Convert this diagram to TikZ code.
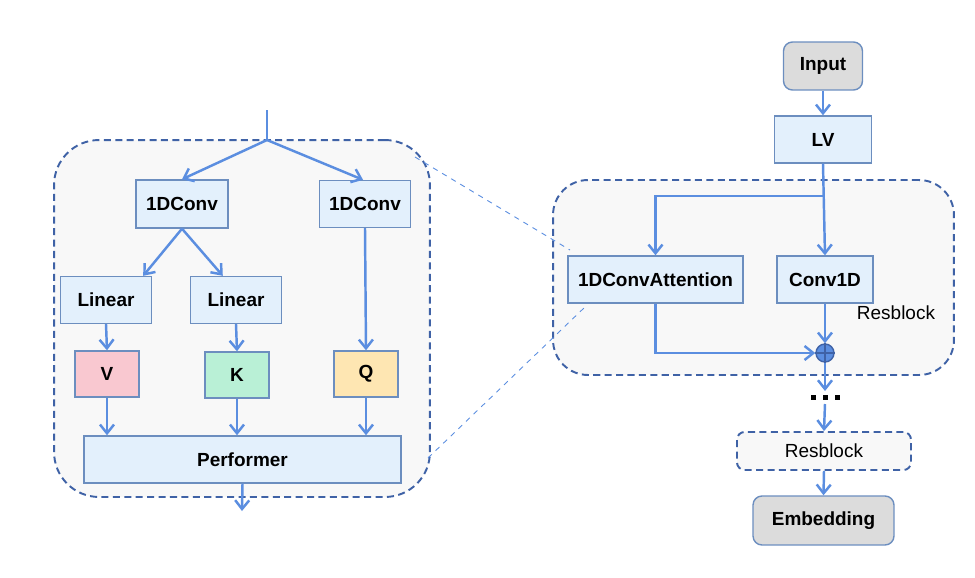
\documentclass[tikz,border=0pt]{standalone}
\usepackage{fontspec}
\setmainfont{Liberation Sans}
\usetikzlibrary{arrows.meta}
\definecolor{boxfill}{HTML}{E3F0FC}
\definecolor{boxline}{HTML}{6C8EBF}
\definecolor{arrowblue}{HTML}{5B8EE0}
\definecolor{dashblue}{HTML}{3F62A6}
\definecolor{panelfill}{HTML}{F8F8F8}
\definecolor{vfill}{HTML}{F9C8D0}
\definecolor{kfill}{HTML}{B9F0D6}
\definecolor{qfill}{HTML}{FEE6B2}
\definecolor{greyfill}{HTML}{DCDCDC}

\begin{document}
\begin{tikzpicture}
    [x=0.02cm, y=-0.02cm,
     every node/.style={font=\fontsize{10.8}{13}\selectfont\bfseries, inner sep=0pt},
     blk/.style={draw=boxline, fill=boxfill, line width=0.8pt},
     tok/.style={draw=boxline, line width=0.8pt, minimum width=1.28cm, minimum height=0.92cm},
     term/.style={draw=boxline, fill=greyfill, line width=0.8pt, rounded corners=0.18cm},
     panel/.style={draw=dashblue, fill=panelfill, line width=1.1pt, dash pattern=on 4pt off 2.5pt},
     flow/.style={draw=arrowblue, line width=1.4pt, -{Straight Barb[length=5pt,width=8pt]}},
     wire/.style={draw=arrowblue, line width=1.4pt},
     zoomline/.style={draw=arrowblue, line width=0.5pt, dashed}]
    \useasboundingbox (0,0) rectangle (975,578);
    % dashed panels
    \node[panel, rounded corners=0.9cm, minimum width=7.52cm, minimum height=7.14cm] (lpanel) at (242,318.5) {};
    \node[panel, rounded corners=0.7cm, minimum width=8.02cm, minimum height=3.9cm] (rpanel) at (753.5,277.5) {};
    % attention block
    \node[blk, minimum width=1.84cm, minimum height=0.96cm] (c1) at (182,204) {1DConv};
    \node[blk, minimum width=1.82cm, minimum height=0.94cm] (c2) at (365,204) {1DConv};
    \node[blk, minimum width=1.82cm, minimum height=0.94cm] (l1) at (106,300) {Linear};
    \node[blk, minimum width=1.82cm, minimum height=0.94cm] (l2) at (236,300) {Linear};
    \node[tok, fill=vfill] (v) at (107,374) {V};
    \node[tok, fill=kfill] (k) at (237,375) {K};
    \node[tok, fill=qfill] (q) at (366,374) {Q};
    \node[blk, minimum width=6.34cm, minimum height=0.94cm] (perf) at (242.5,459.5) {Performer};
    \coordinate (in) at (267,110);
    \coordinate (split) at (267,140);
    \coordinate (out) at (242,511);
    \draw[wire] (in) -- (split);
    \draw[flow] (split) -- (c1.north);
    \draw[flow] (split) -- ([xshift=-0.04cm]c2.north);
    \draw[flow] (c1.south) -- ([xshift=-0.18cm]l1.north east);
    \draw[flow] (c1.south) -- ([xshift=0.66cm]l2.north west);
    \draw[flow] (l1.south) -- (v.north);
    \draw[flow] (l2.south) -- (k.north);
    \draw[flow] (c2.south) -- (q.north);
    \draw[flow] (v.south) -- (v.south |- perf.north);
    \draw[flow] (k.south) -- (k.south |- perf.north);
    \draw[flow] (q.south) -- (q.south |- perf.north);
    \draw[flow] (perf.south) -- (out);
    % encoder
    \node[term, minimum width=1.58cm, minimum height=0.96cm] (input) at (823,66) {Input};
    \node[blk, minimum width=1.94cm, minimum height=0.94cm] (lv) at (823,139.5) {LV};
    \node[blk, minimum width=3.5cm, minimum height=0.94cm] (ca) at (655.5,279.5) {1DConvAttention};
    \node[blk, minimum width=1.92cm, minimum height=0.94cm] (cv) at (825,279.5) {Conv1D};
    \node[font=\fontsize{10.8}{13}\selectfont] (rlabel) at (896,313) {Resblock};
    \node[circle, draw=dashblue, fill=arrowblue, line width=0.8pt, minimum size=0.36cm] (plus) at (825,353) {};
    \draw[dashblue, line width=0.8pt] (plus.north) -- (plus.south) (plus.west) -- (plus.east);
    \node[draw=dashblue, fill=panelfill, line width=1.1pt, dash pattern=on 4pt off 2.5pt, rounded corners=0.15cm,
          minimum width=3.48cm, minimum height=0.76cm, font=\fontsize{10.8}{13}\selectfont] (rb) at (824,451) {Resblock};
    \node[term, minimum width=2.82cm, minimum height=0.98cm] (emb) at (823.5,520.5) {Embedding};
    \coordinate (br) at (823.5,196);
    \coordinate (d1) at (825,391);
    \coordinate (d2) at (825,404);
    \draw[flow] (input.south) -- (lv.north);
    \draw[flow] (lv.south) -- (cv.north);
    \draw[flow] (br) -| (ca.north);
    \draw[flow] (ca.south) |- (plus.west);
    \draw[flow] (cv.south) -- (plus.north);
    \draw[flow] (plus.south) -- (d1);
    \foreach \x in {813,825,837}
      \fill (\x-2.5,394.5) rectangle ++(5,5);
    \draw[flow] (d2) -- (rb.north);
    \draw[flow] (rb.south) -- (emb.north);
    % zoom lines
    \coordinate (z1) at (415,157);
    \coordinate (z2) at (428,458);
    \coordinate (z3) at (570,250);
    \coordinate (z4) at (585,307);
    \draw[zoomline] (z1) -- (z3);
    \draw[zoomline] (z2) -- (z4);
\end{tikzpicture}
\end{document}
